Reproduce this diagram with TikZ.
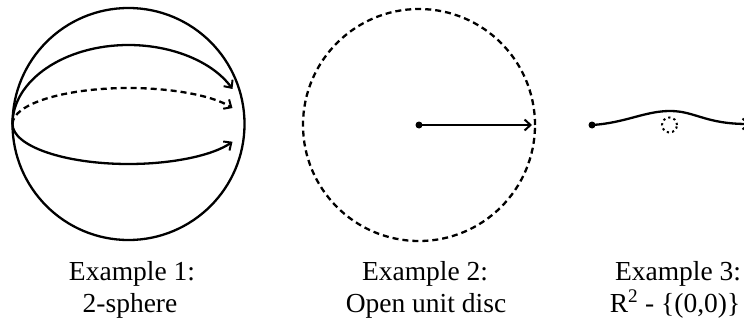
\documentclass[tikz,border=0pt]{standalone}
\usepackage{fontspec}
\setmainfont{Liberation Serif}
\usetikzlibrary{arrows.meta}
\begin{document}
\begin{tikzpicture}[x=1pt,y=1pt,
  ln/.style={line width=2.3pt},
  tip/.style={-{Straight Barb[length=6pt,width=11pt,line width=2pt]}},
  dsh/.style={dash pattern=on 6pt off 4pt},
  lbl/.style={anchor=base,inner sep=0pt,font=\fontsize{27.5}{32}\selectfont},
  dotn/.style={circle,fill=black,inner sep=0pt,minimum size=7pt}]
\useasboundingbox (0,0) rectangle (744,322);
% Example 1: sphere
\node (s) [circle,draw,ln,inner sep=0pt,minimum size=232pt] at (128.5,198) {};
\coordinate (sl) at (12.5,198);
\draw[ln,tip] (sl) arc[start angle=180,end angle=26.3,x radius=116,y radius=79] coordinate (e1);
\draw[ln,tip,dsh] (sl) arc[start angle=180,end angle=26.3,x radius=116,y radius=36] coordinate (e2);
\draw[ln,tip] (sl) arc[start angle=180,end angle=333.7,x radius=116,y radius=40] coordinate (e3);
% Example 2: disc
\node (d) [circle,draw,ln,dsh,inner sep=0pt,minimum size=232pt] at (419,197) {};
\node (dc) [dotn] at (419,197) {};
\coordinate (de) at (532,197);
\draw[ln,tip] (dc.center) -- (de);
% Example 3: punctured plane
\node (p) [dotn] at (592,197) {};
\node (h) [circle,draw,line width=2pt,dash pattern=on 2.2pt off 3.2pt,inner sep=0pt,minimum size=15pt] at (669.5,197) {};
\coordinate (pe) at (750,198);
\draw[ln,tip] (p.center) .. controls (625,199) and (645,211) .. (670,211) .. controls (695,211) and (705,198) .. (pe);
% labels
\node (l1a) [lbl] at (132,42) {Example 1:};
\node (l1b) [lbl] at (130,10) {2-sphere};
\node (l2a) [lbl] at (425,42) {Example 2:};
\node (l2b) [lbl] at (426,10) {Open unit disc};
\node (l3a) [lbl] at (678,42) {Example 3:};
\node (l3b) [lbl] at (675,10) {R\textsuperscript{2} - \{(0,0)\}};
\end{tikzpicture}
\end{document}
